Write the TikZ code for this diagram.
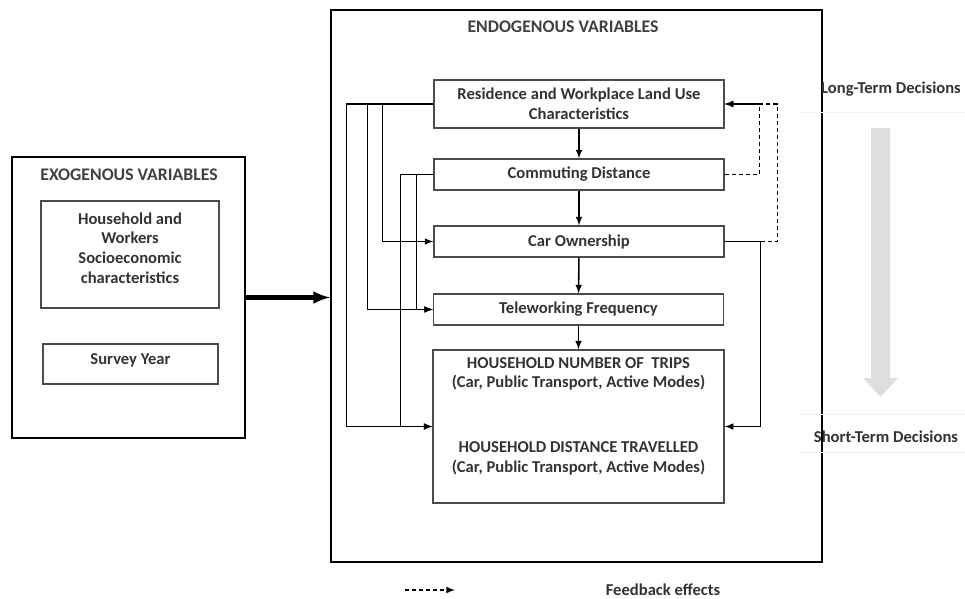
\documentclass[tikz,border=0pt]{standalone}
\usepackage{fontspec}
\setmainfont{Carlito}
\usetikzlibrary{arrows}

\begin{document}
\begin{tikzpicture}[x=0.025cm,y=-0.025cm]
  \tikzstyle{box}=[draw=black!70,line width=0.9pt,minimum width=7.25cm,minimum height=0.775cm,inner sep=2pt,align=center,font=\bfseries\fontsize{11.8}{14}\selectfont,text=black!80]
  \tikzstyle{frame}=[draw=black,line width=1.4pt]
  \tikzstyle{lbl}=[inner sep=0pt,align=center,font=\bfseries\fontsize{11.8}{14}\selectfont,text=black!80]
  \tikzstyle{title}=[inner sep=0pt,font=\bfseries\fontsize{12.6}{15}\selectfont,text=black!75]
  \tikzstyle{link}=[-latex,line width=1.1pt]
  \tikzstyle{feedback}=[-latex,line width=1.1pt,dash pattern=on 3pt off 2pt]
  \useasboundingbox (0,0) rectangle (965,598);
  % big frames
  \node[frame,minimum width=12.275cm,minimum height=13.8cm] (endo) at (576.5,286) {};
  \node[frame,minimum width=5.825cm,minimum height=7.025cm] (exo) at (128.5,297.5) {};
  \node[title] (endot) at (563,27) {ENDOGENOUS VARIABLES};
  \node[title] (exot) at (129,175) {EXOGENOUS VARIABLES};
  % exogenous boxes
  \node[box,minimum width=4.45cm,minimum height=2.675cm] (hw) at (130,254.5) {};
  \node[lbl] (hwt) at (130,248) {Household and\\Workers\\Socioeconomic\\characteristics};
  \node[box,minimum width=4.375cm,minimum height=1cm] (sy) at (130.5,364) {};
  \node[lbl] (syt) at (130.5,360) {Survey Year};
  % endogenous boxes
  \node[box,minimum height=1.2cm] (res) at (579,104) {Residence and Workplace Land Use\\Characteristics};
  \node[box] (com) at (579,174.5) {Commuting Distance};
  \node[box] (car) at (579,241.5) {Car Ownership};
  \node[box] (tele) at (578.5,309.5) {Teleworking Frequency};
  \node[box,minimum width=7.275cm,minimum height=3.825cm] (hh) at (578.5,426.5) {};
  \node[lbl] (trips) at (578.5,374) {HOUSEHOLD NUMBER OF~ TRIPS\\(Car, Public Transport, Active Modes)};
  \node[lbl] (dist) at (578.5,458.5) {HOUSEHOLD DISTANCE TRAVELLED\\(Car, Public Transport, Active Modes)};
  % chain
  \draw[link] (res) -- (com);
  \draw[link] (com) -- (car);
  \draw[link] (car) -- (tele);
  \draw[link] (tele) -- (hh);
  % left links
  \draw[link] (res.west) -- ++(-51,0) |- (car.west);
  \draw[link] (res.west) -- ++(-66,0) |- (tele.west);
  \draw[link] (res.west) -- ++(-87,0) |- (hh.west);
  \draw[link] (com.west) -- ++(-17,0) |- (tele.west);
  \draw[link] (com.west) -- ++(-33,0) |- (hh.west);
  % right links
  \draw[link] (car.east) -- ++(36,0) |- (hh.east);
  \draw[feedback] (com.east) -- ++(35,0) |- (res.east);
  \draw[feedback] (car.east) ++(36,0) -- ++(17,0) |- (res.east);
  % exogenous -> endogenous
  \draw[-latex,line width=3pt] (exo.east) -- (exo.east -| endo.west);
  % decisions
  \draw[black!6] (800,112) -- (965,112);
  \draw[black!6] (800,414) -- (965,414);
  \draw[black!6] (800,452) -- (965,452);
  \node[lbl] (lt) at (891,89) {Long-Term Decisions};
  \node[lbl] (st) at (886,437) {Short-Term Decisions};
  \fill[black!13] (871,128) -- (890,128) -- (890,378) -- (898,378) -- (880.5,397) -- (863,378) -- (871,378) -- cycle;
  % legend
  \coordinate (lega) at (405,590);
  \coordinate (legb) at (455,590);
  \draw[feedback] (lega) -- (legb);
  \node[lbl] (fb) at (663,590) {Feedback effects};
\end{tikzpicture}
\end{document}
